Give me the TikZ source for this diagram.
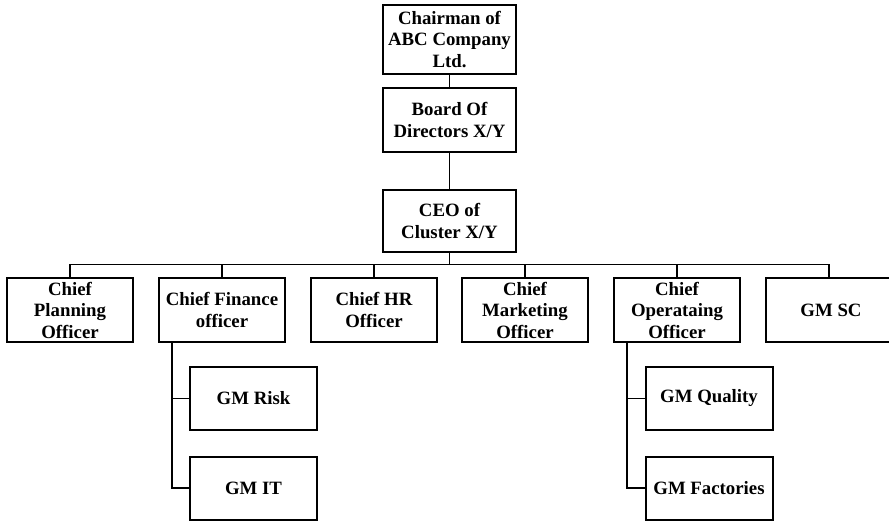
\documentclass[tikz,border=0pt]{standalone}
\usepackage{fontspec}
\setmainfont{Liberation Serif}
\begin{document}
\begin{tikzpicture}[x=1pt, y=-1pt,
    unitbox/.style={draw, line width=2pt, minimum width=126pt, minimum height=64pt,
      align=center, inner sep=1pt,
      font=\fontsize{18.8}{21.5}\selectfont\bfseries},
    link/.style={line width=1.6pt}]
    \useasboundingbox (0,0) rectangle (889,521);
    % top of the chart
    \node [unitbox, minimum width=133pt, minimum height=69pt] (chair) at (449.5,39.5) {Chairman of\\ABC Company\\Ltd.};
    \node [unitbox, minimum width=133pt] (board) at (449.5,120) {Board Of\\Directors X/Y};
    \node [unitbox, minimum width=133pt, minimum height=62pt] (ceo) at (449.5,221) {CEO of\\Cluster X/Y};
    \draw [link] (chair) -- (board);
    \draw [link] (board) -- (ceo);
    % chiefs
    \node [unitbox] (cpo) at (70,310) {Chief\\Planning\\Officer};
    \node [unitbox] (cfo) at (222,310) {Chief Finance\\officer};
    \node [unitbox] (chro) at (374,310) {Chief HR\\Officer};
    \node [unitbox] (cmo) at (525,310) {Chief\\Marketing\\Officer};
    \node [unitbox] (coo) at (677,310) {Chief\\Operataing\\Officer};
    \node [unitbox, minimum width=130pt] (gmsc) at (831,310) {GM SC};
    \coordinate (bus) at (449.5,264.5);
    \foreach \n in {cpo, cfo, chro, cmo, coo}
      \draw [link] (ceo.south) -- (bus) -| (\n.north);
    \draw [link] (bus) -| ([xshift=-2pt]gmsc.north);
    % general managers
    \node [unitbox, minimum width=127pt, minimum height=63pt] (risk) at (253.5,398.5) {GM Risk};
    \node [unitbox, minimum width=127pt, minimum height=63pt] (it) at (253.5,488) {GM IT};
    \node [unitbox, minimum width=127pt, minimum height=63pt] (quality) at (709,398.5) {GM Quality};
    \node [unitbox, minimum width=127pt, minimum height=63pt] (factories) at (709,488) {GM Factories};
    \coordinate (cfoleg) at (172,342);
    \coordinate (cooleg) at (627,342);
    \draw [link] (cfoleg) |- (risk.west);
    \draw [link] (cfoleg) |- (it.west);
    \draw [link] (cooleg) |- (quality.west);
    \draw [link] (cooleg) |- (factories.west);
\end{tikzpicture}
\end{document}
